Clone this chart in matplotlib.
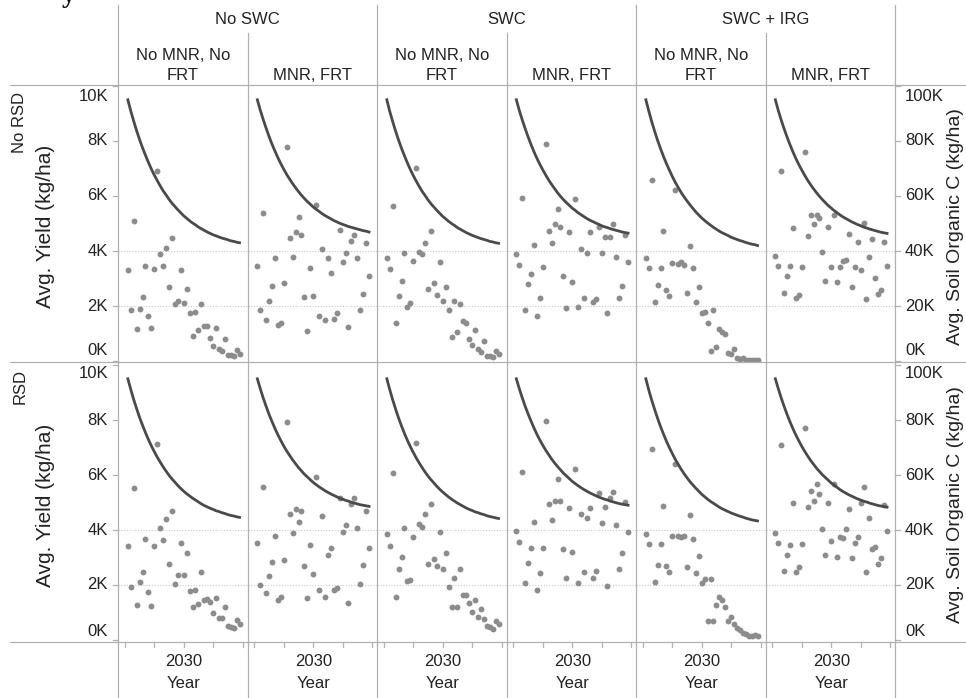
import matplotlib.pyplot as plt
from matplotlib import transforms
from matplotlib.lines import Line2D

plt.rcParams['font.family'] = ['Liberation Sans', 'DejaVu Sans']

W, H = 966, 698

years = list(range(2011, 2050))

col_groups = ["No SWC", "SWC", "SWC + IRG"]
col_treatments = ["No MNR, No\nFRT", "MNR, FRT"]
row_names = ["No RSD", "RSD"]

yield_ticks = [0, 2, 4, 6, 8, 10]        # thousand kg/ha
soc_ticks = [0, 20, 40, 60, 80, 100]     # thousand kg/ha
x_ticks = [2010, 2020, 2030, 2040, 2050]

# Avg. Yield (thousand kg/ha), one value per year 2011-2049
yld_norsd_noswc_nomnr = [3.30, 1.84, 5.09, 1.16, 1.89, 2.33, 3.44, 1.62, 1.21, 3.33, 6.92, 3.89, 3.44,
                         4.12, 2.68, 4.48, 2.08, 2.17, 3.30, 2.12, 2.61, 1.76, 0.90, 1.77, 1.12, 2.06,
                         1.27, 1.27, 0.84, 0.55, 1.19, 0.44, 0.36, 0.79, 0.22, 0.22, 0.18, 0.40, 0.27]
yld_norsd_noswc_mnr = [3.44, 1.84, 5.39, 1.49, 2.17, 2.72, 3.73, 1.31, 1.39, 2.83, 7.79, 4.46, 3.77,
                       4.70, 5.24, 4.57, 2.34, 1.09, 3.39, 2.37, 5.67, 1.62, 4.06, 1.49, 3.73, 3.20,
                       1.52, 1.76, 4.75, 3.61, 3.93, 1.24, 4.35, 4.60, 3.75, 1.86, 2.44, 4.28, 3.09]
yld_norsd_swc_nomnr = [3.76, 3.35, 5.64, 1.39, 2.36, 2.91, 3.94, 1.95, 2.12, 3.65, 7.01, 3.98, 3.89,
                       4.30, 2.62, 4.73, 2.85, 2.40, 3.61, 2.19, 2.70, 1.85, 0.86, 2.19, 1.04, 2.07,
                       1.45, 1.39, 0.81, 0.58, 1.13, 0.44, 0.32, 0.73, 0.19, 0.19, 0.16, 0.35, 0.24]
yld_norsd_swc_mnr = [3.89, 3.49, 5.93, 1.85, 2.80, 3.16, 4.22, 1.65, 2.28, 3.41, 7.88, 4.73, 4.28,
                     4.97, 5.53, 4.88, 3.09, 1.92, 4.70, 2.88, 5.89, 1.98, 4.08, 2.30, 3.94, 4.68,
                     2.15, 2.27, 4.88, 3.92, 4.50, 1.73, 4.50, 4.97, 3.77, 2.28, 2.74, 4.57, 3.59]
yld_norsd_irg_nomnr = [3.76, 3.39, 6.58, 2.13, 2.76, 3.37, 4.73, 2.58, 2.36, 3.58, 6.22, 3.53, 3.61,
                       3.49, 2.48, 4.17, 3.39, 2.13, 2.70, 1.73, 1.79, 1.39, 0.38, 1.85, 0.50, 1.16,
                       1.07, 0.98, 0.30, 0.24, 0.44, 0.12, 0.06, 0.10, 0.04, 0.03, 0.03, 0.02, 0.03]
yld_norsd_irg_mnr = [3.82, 3.45, 6.92, 2.46, 3.10, 3.45, 4.82, 2.28, 2.40, 3.41, 7.59, 4.56, 5.31,
                     4.97, 5.31, 5.19, 3.95, 2.92, 4.86, 3.41, 5.31, 2.88, 3.41, 3.65, 3.67, 4.61,
                     2.70, 3.41, 4.34, 3.31, 5.01, 2.24, 3.77, 4.44, 3.03, 2.42, 2.58, 4.34, 3.45]

yld_rsd_noswc_nomnr = [3.42, 1.94, 5.52, 1.27, 2.12, 2.48, 3.67, 1.73, 1.24, 3.42, 7.12, 4.08, 3.64,
                       4.40, 2.75, 4.69, 2.02, 2.36, 3.53, 2.36, 3.15, 1.78, 1.21, 1.81, 1.31, 2.46,
                       1.45, 1.48, 1.37, 0.99, 1.52, 0.81, 0.79, 1.21, 0.51, 0.48, 0.42, 0.73, 0.57]
yld_rsd_noswc_mnr = [3.52, 2.00, 5.58, 1.70, 2.33, 2.84, 3.79, 1.45, 1.55, 2.91, 7.92, 4.58, 3.88,
                     4.76, 4.30, 4.70, 2.69, 1.52, 3.45, 2.40, 5.94, 1.82, 4.52, 1.58, 3.09, 3.33,
                     1.82, 1.88, 5.15, 3.94, 4.18, 1.36, 4.95, 5.15, 4.06, 2.04, 2.73, 4.69, 3.33]
yld_rsd_swc_nomnr = [3.84, 3.43, 6.06, 1.58, 2.58, 3.03, 4.06, 2.13, 2.18, 3.76, 7.15, 4.22, 4.12,
                     4.57, 2.75, 4.95, 2.96, 2.69, 3.93, 2.57, 3.18, 1.94, 1.19, 2.27, 1.19, 2.58,
                     1.64, 1.65, 1.33, 1.03, 1.45, 0.85, 1.12, 0.75, 0.51, 0.48, 0.40, 0.70, 0.58]
yld_rsd_swc_mnr = [3.98, 3.58, 6.12, 2.08, 2.79, 3.36, 4.30, 1.82, 2.42, 3.36, 7.96, 4.95, 4.36,
                   5.05, 5.84, 5.07, 3.31, 2.24, 4.79, 3.21, 6.21, 2.08, 4.58, 2.46, 4.42, 4.79,
                   2.24, 2.52, 5.36, 4.24, 4.85, 1.96, 5.17, 5.37, 4.18, 2.57, 3.15, 5.01, 3.92]
yld_rsd_irg_nomnr = [3.85, 3.48, 6.93, 2.12, 2.73, 3.48, 4.88, 2.69, 2.48, 3.78, 6.40, 3.78, 3.76,
                     3.78, 2.67, 4.55, 3.67, 2.42, 3.07, 2.06, 2.22, 0.69, 2.22, 0.69, 1.27, 1.58,
                     1.45, 1.21, 0.69, 0.85, 0.57, 0.42, 0.38, 0.25, 0.20, 0.15, 0.15, 0.18, 0.16]
yld_rsd_irg_mnr = [3.88, 3.52, 7.09, 2.51, 3.08, 3.44, 4.97, 2.48, 2.64, 3.49, 7.71, 4.82, 5.43,
                   5.07, 5.66, 5.31, 4.02, 3.09, 4.97, 3.60, 5.66, 3.03, 3.76, 3.70, 4.02, 4.78,
                   2.97, 3.52, 3.73, 4.99, 5.55, 2.48, 4.42, 3.30, 3.39, 2.76, 2.97, 4.90, 3.96]

# Avg. Soil Organic C (thousand kg/ha), one value per year 2011-2049
soc_norsd_noswc_nomnr = [95.0, 90.9, 87.2, 83.7, 80.5, 77.5, 74.8, 72.2, 69.8, 67.6, 65.6, 63.7, 61.9,
                         60.4, 58.8, 57.4, 56.2, 55.0, 53.9, 52.8, 51.9, 51.0, 50.2, 49.5, 48.7, 48.1,
                         47.5, 46.9, 46.4, 45.9, 45.5, 45.1, 44.7, 44.4, 44.1, 43.7, 43.5, 43.2, 43.0]
soc_norsd_noswc_mnr = [95.0, 91.2, 87.8, 84.6, 81.6, 78.8, 76.3, 73.9, 71.7, 69.7, 67.8, 66.1, 64.5,
                       63.0, 61.6, 60.3, 59.1, 58.0, 57.0, 56.0, 55.2, 54.4, 53.6, 52.9, 52.3, 51.7,
                       51.1, 50.6, 50.1, 49.7, 49.3, 48.9, 48.6, 48.3, 48.0, 47.7, 47.4, 47.2, 46.9]
soc_norsd_swc_nomnr = [95.0, 90.7, 87.0, 83.5, 80.3, 77.3, 74.6, 72.0, 69.6, 67.4, 65.4, 63.5, 61.7,
                       60.2, 58.6, 57.2, 56.0, 54.8, 53.7, 52.6, 51.7, 50.8, 50.0, 49.3, 48.5, 47.9,
                       47.3, 46.7, 46.2, 45.7, 45.3, 44.9, 44.5, 44.2, 43.9, 43.5, 43.3, 43.0, 42.8]
soc_norsd_swc_mnr = [95.0, 91.1, 87.7, 84.5, 81.5, 78.7, 76.1, 73.7, 71.5, 69.5, 67.6, 65.8, 64.2,
                     62.7, 61.2, 59.9, 58.7, 57.6, 56.6, 55.6, 54.8, 53.9, 53.2, 52.5, 51.8, 51.2,
                     50.7, 50.2, 49.7, 49.2, 48.8, 48.5, 48.1, 47.8, 47.5, 47.2, 46.9, 46.7, 46.5]
soc_norsd_irg_nomnr = [95.0, 90.9, 87.0, 83.5, 80.2, 77.2, 74.4, 71.8, 69.4, 67.1, 65.0, 63.1, 61.3,
                       59.7, 58.2, 56.8, 55.5, 54.2, 53.1, 52.0, 51.1, 50.2, 49.4, 48.6, 47.9, 47.2,
                       46.6, 46.1, 45.6, 45.0, 44.6, 44.2, 43.8, 43.5, 43.1, 42.8, 42.5, 42.3, 42.0]
soc_norsd_irg_mnr = [95.0, 91.1, 87.6, 84.4, 81.4, 78.6, 76.0, 73.6, 71.4, 69.4, 67.5, 65.7, 64.1,
                     62.6, 61.2, 59.9, 58.7, 57.6, 56.5, 55.6, 54.7, 53.9, 53.1, 52.4, 51.8, 51.2,
                     50.6, 50.1, 49.6, 49.2, 48.7, 48.4, 48.0, 47.7, 47.4, 47.1, 46.8, 46.6, 46.4]

soc_rsd_noswc_nomnr = [95.0, 91.1, 87.4, 84.1, 80.9, 78.1, 75.4, 72.9, 70.6, 68.5, 66.5, 64.7, 63.0,
                       61.4, 59.9, 58.6, 57.4, 56.2, 55.1, 54.1, 53.2, 52.4, 51.6, 50.9, 50.2, 49.5,
                       48.9, 48.4, 47.9, 47.5, 47.0, 46.7, 46.3, 46.0, 45.6, 45.3, 45.1, 44.8, 44.6]
soc_rsd_noswc_mnr = [95.0, 91.4, 88.0, 84.9, 82.0, 79.4, 76.9, 74.6, 72.5, 70.5, 68.7, 67.1, 65.5,
                     64.1, 62.7, 61.5, 60.3, 59.3, 58.3, 57.3, 56.5, 55.7, 55.0, 54.3, 53.7, 53.1,
                     52.6, 52.1, 51.6, 51.2, 50.8, 50.5, 50.1, 49.8, 49.5, 49.2, 49.0, 48.8, 48.6]
soc_rsd_swc_nomnr = [95.0, 91.0, 87.3, 83.9, 80.7, 77.8, 75.1, 72.6, 70.3, 68.2, 66.2, 64.4, 62.7,
                     61.1, 59.6, 58.3, 57.1, 55.9, 54.8, 53.8, 52.9, 52.0, 51.2, 50.5, 49.8, 49.2,
                     48.6, 48.0, 47.5, 47.1, 46.6, 46.3, 45.9, 45.6, 45.2, 44.9, 44.7, 44.4, 44.2]
soc_rsd_swc_mnr = [95.0, 91.4, 88.1, 85.0, 82.2, 79.6, 77.1, 74.8, 72.7, 70.8, 69.0, 67.4, 65.8,
                   64.4, 63.1, 61.9, 60.7, 59.7, 58.7, 57.7, 56.9, 56.1, 55.4, 54.7, 54.1, 53.5,
                   53.0, 52.5, 52.0, 51.6, 51.2, 50.9, 50.5, 50.2, 49.9, 49.6, 49.4, 49.2, 49.0]
soc_rsd_irg_nomnr = [95.0, 90.9, 87.2, 83.8, 80.6, 77.6, 74.9, 72.3, 70.0, 67.8, 65.7, 63.9, 62.1,
                     60.5, 59.0, 57.6, 56.4, 55.2, 54.1, 53.0, 52.1, 51.2, 50.4, 49.7, 49.0, 48.3,
                     47.7, 47.2, 46.7, 46.2, 45.8, 45.4, 45.0, 44.7, 44.3, 44.0, 43.7, 43.5, 43.3]
soc_rsd_irg_mnr = [95.0, 91.4, 88.0, 84.9, 82.0, 79.3, 76.8, 74.5, 72.4, 70.4, 68.6, 66.9, 65.3,
                   63.9, 62.5, 61.3, 60.1, 59.1, 58.1, 57.1, 56.3, 55.5, 54.7, 54.0, 53.4, 52.8,
                   52.3, 51.8, 51.3, 50.9, 50.5, 50.2, 49.8, 49.5, 49.2, 48.9, 48.7, 48.5, 48.3]

yield_panels = [
    [yld_norsd_noswc_nomnr, yld_norsd_noswc_mnr, yld_norsd_swc_nomnr,
     yld_norsd_swc_mnr, yld_norsd_irg_nomnr, yld_norsd_irg_mnr],
    [yld_rsd_noswc_nomnr, yld_rsd_noswc_mnr, yld_rsd_swc_nomnr,
     yld_rsd_swc_mnr, yld_rsd_irg_nomnr, yld_rsd_irg_mnr],
]
soc_panels = [
    [soc_norsd_noswc_nomnr, soc_norsd_noswc_mnr, soc_norsd_swc_nomnr,
     soc_norsd_swc_mnr, soc_norsd_irg_nomnr, soc_norsd_irg_mnr],
    [soc_rsd_noswc_nomnr, soc_rsd_noswc_mnr, soc_rsd_swc_nomnr,
     soc_rsd_swc_mnr, soc_rsd_irg_nomnr, soc_rsd_irg_mnr],
]

fig = plt.figure(figsize=(W / 100, H / 100), dpi=100)


def fx(px):
    return px / W


def fy(py):
    return 1 - py / H


frame_c = '#b0b0b0'
text_c = '#222222'
x0 = 118
col_w = 129.5
row_top = [85, 362]
row_bot = [362, 642]
ylims = [(-0.036, 10.036), (-0.073, 10.11)]
edge_shift = [11, 8]
fs = 12

axes = [[None] * 6 for _ in range(2)]
axes2 = [[None] * 6 for _ in range(2)]
for r in range(2):
    for c in range(6):
        left = x0 + col_w * c
        ax = fig.add_axes([fx(left), fy(row_bot[r]), col_w / W, (row_bot[r] - row_top[r]) / H])
        ax.set_xlim(2007.65, 2051.7)
        ax.set_ylim(*ylims[r])
        ax.axis('off')
        for g in (2, 4):
            ax.axhline(g, color='#c8c8c8', lw=0.8, ls=(0, (1, 1.5)), zorder=1)
        ax.scatter(years, yield_panels[r][c], s=18, color='#8c8c8c', linewidths=0, zorder=3)
        ax2 = ax.twinx()
        ax2.set_ylim(ylims[r][0] * 10, ylims[r][1] * 10)
        ax2.axis('off')
        ax2.plot(years, soc_panels[r][c], color='#4a4a4a', lw=2.0, zorder=4)
        axes[r][c] = ax
        axes2[r][c] = ax2


def fig_line(xa, xb, ya, yb, **kw):
    fig.add_artist(Line2D([fx(xa), fx(xb)], [fy(ya), fy(yb)], transform=fig.transFigure,
                          color=frame_c, lw=0.9, **kw))


# frame lines
for c in range(7):
    xp = x0 + col_w * c
    fig_line(xp, xp, 5 if c % 2 == 0 else 33, H)
for yp in (85, 362, 642):
    fig_line(10, W, yp, yp)

# headers
for g, name in enumerate(col_groups):
    cx = x0 + col_w * (2 * g + 1)
    fig.text(fx(cx), fy(20), name, ha='center', va='center', fontsize=fs, color=text_c)
for c in range(6):
    cx = x0 + col_w * (c + 0.5)
    fig.text(fx(cx), fy(83), col_treatments[c % 2], ha='center', va='bottom', fontsize=fs,
             color=text_c, linespacing=1.4)

# row labels and axis titles
for r in range(2):
    fig.text(fx(20), fy(row_top[r] + 7), row_names[r], rotation=90, ha='center', va='top',
             fontsize=fs, color=text_c)
    cy = (row_top[r] + row_bot[r]) / 2
    fig.text(fx(46), fy(cy + 3), 'Avg. Yield (kg/ha)', rotation=90, ha='center', va='center',
             fontsize=15, color=text_c)
    fig.text(fx(955), fy(cy + 3), 'Avg. Soil Organic C (kg/ha)', rotation=90, ha='center',
             va='center', fontsize=14, color=text_c)

    # left axis ticks + labels
    tl = transforms.blended_transform_factory(fig.transFigure, axes[r][0].transData)
    tr = transforms.blended_transform_factory(fig.transFigure, axes2[r][5].transData)
    for i, v in enumerate(yield_ticks):
        fig.add_artist(Line2D([fx(113), fx(118)], [v, v], transform=tl, color=frame_c, lw=0.9))
        shift = 0
        if i == 0:
            shift = edge_shift[r]
        elif i == len(yield_ticks) - 1:
            shift = -edge_shift[r]
        t = transforms.offset_copy(tl, fig=fig, y=shift, units='dots')
        fig.text(fx(108), v, f'{v}K', transform=t, ha='right', va='center', fontsize=12,
                 color=text_c)
    for i, v in enumerate(soc_ticks):
        fig.add_artist(Line2D([fx(895), fx(900)], [v, v], transform=tr, color=frame_c, lw=0.9))
        shift = 0
        if i == 0:
            shift = edge_shift[r]
        elif i == len(soc_ticks) - 1:
            shift = -edge_shift[r]
        t = transforms.offset_copy(tr, fig=fig, y=shift, units='dots')
        fig.text(fx(905), v, f'{v}K', transform=t, ha='left', va='center', fontsize=12,
                 color=text_c)

# x axis
for c in range(6):
    ax = axes[1][c]
    tb = transforms.blended_transform_factory(ax.transData, fig.transFigure)
    for xt in x_ticks:
        fig.add_artist(Line2D([xt, xt], [fy(642), fy(647)], transform=tb, color=frame_c, lw=0.9))
    fig.text(2030, fy(662), '2030', transform=tb, ha='center', va='center', fontsize=12,
             color=text_c)
    fig.text(2030, fy(684), 'Year', transform=tb, ha='center', va='center', fontsize=12,
             color=text_c)

# clipped caption glyph above the chart
fig.text(fx(62), fy(2), 'y', ha='left', va='baseline', fontsize=20, fontweight='bold',
         family='Liberation Serif', color='#111111')

fig.savefig('out.png', dpi=100)
